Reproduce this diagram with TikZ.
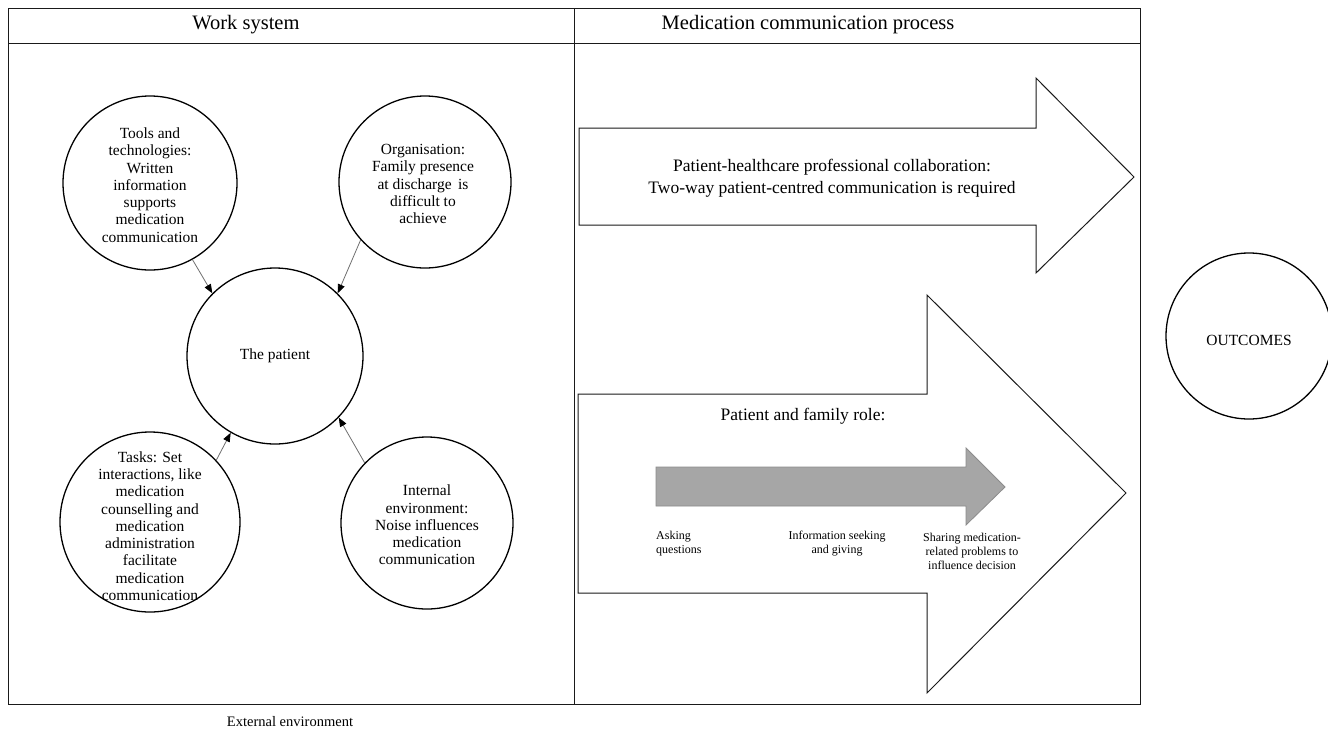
\documentclass[tikz,border=0pt]{standalone}
\usepackage{fontspec}
\setmainfont{Liberation Serif}
\usetikzlibrary{arrows.meta}
\definecolor{framecol}{HTML}{1A1A1A}
\definecolor{linkcol}{HTML}{707070}
\definecolor{greyfill}{HTML}{A6A6A6}
\definecolor{greyedge}{HTML}{8C8C8C}
\tikzset{
  circ/.style={circle, draw=black, line width=1.3pt, minimum size=#1, inner sep=0pt},
  ctext/.style={align=center, inner sep=0pt, font=\fontsize{15.5}{17.3}\selectfont},
  title/.style={inner sep=0pt, font=\fontsize{20.5}{24}\selectfont},
  arrtext/.style={align=center, inner sep=0pt, font=\fontsize{17.5}{21.5}\selectfont},
  smalltext/.style={inner sep=0pt, font=\fontsize{12}{14}\selectfont},
  conn/.style={draw=linkcol, line width=0.8pt, -{Triangle[length=9pt,width=7pt,color=black]}},
  frameline/.style={draw=framecol, line width=1pt},
  bigarrow/.style={draw=framecol, line width=1pt, fill=white, line join=miter},
}
\begin{document}
\begin{tikzpicture}[x=1pt, y=-1pt]
\useasboundingbox (0,0) rectangle (1328,734);
\fill[white] (0,0) rectangle (1328,734);

% frame
\draw[frameline] (8,8) rectangle (1140,704);
\draw[frameline] (8,43) -- (1140,43);
\draw[frameline] (574,8) -- (574,704);
\node[title] (t1) at (246,25) {Work system};
\node[title] (t2) at (808,25) {Medication communication process};
\node[inner sep=0pt, font=\fontsize{14.5}{17}\selectfont] (ext) at (290,722) {External environment};

% work system circles
\node[circ=174pt] (tools) at (150,183) {};
\node[ctext] (toolsT) at (150,185) {Tools and\\technologies:\\Written\\information\\supports\\medication\\communication};
\node[circ=172pt] (org) at (425,182) {};
\node[ctext] (orgT) at (423,184) {Organisation:\\Family presence\\at discharge\,\ is\\difficult to\\achieve};
\node[circ=176pt] (patient) at (275,356) {};
\node[ctext] (patT) at (patient.center) {The patient};
\node[circ=180pt] (tasks) at (150,522) {};
\node[ctext] (tasksT) at (150,526) {Tasks: Set\\interactions, like\\medication\\counselling and\\medication\\administration\\facilitate\\medication\\communication};
\node[circ=172pt] (internal) at (427,523) {};
\node[ctext] (intT) at (427,525) {Internal\\environment:\\Noise influences\\medication\\communication};

\draw[conn] (tools.-61) -- (patient.135);
\draw[conn] (org.-138) -- (patient.45);
\draw[conn] (tasks.43) -- (patient.-120);
\draw[conn] (internal.136) -- (patient.-44);

% top big arrow
\draw[bigarrow] (579,128) -- (1036,128) -- (1036,78) -- (1134,177) -- (1036,273) -- (1036,225) -- (579,225) -- cycle;
\node[arrtext] (collab) at (832,178) {Patient-healthcare professional collaboration:\\Two-way patient-centred communication is required};

% bottom big arrow
\draw[bigarrow] (578,394) -- (927,394) -- (927,295) -- (1126,493) -- (927,693) -- (927,593) -- (578,593) -- cycle;
\node[arrtext] (role) at (803,416) {Patient and family role:};
\draw[fill=greyfill, draw=greyedge, line width=0.8pt] (656,467) -- (966,467) -- (966,448) -- (1005,487) -- (966,525) -- (966,506) -- (656,506) -- cycle;
\node[smalltext, align=left, anchor=west] (ask) at (656,544) {Asking\\questions};
\node[smalltext, align=center] (info) at (837,544) {Information seeking\\and giving};
\node[smalltext, align=center] (share) at (972,551) {Sharing medication-\\related problems to\\influence decision};

% outcomes
\node[circ=166pt] (out) at (1249,336) {};
\node[ctext] (outT) at (1249,340) {OUTCOMES};
\end{tikzpicture}
\end{document}
